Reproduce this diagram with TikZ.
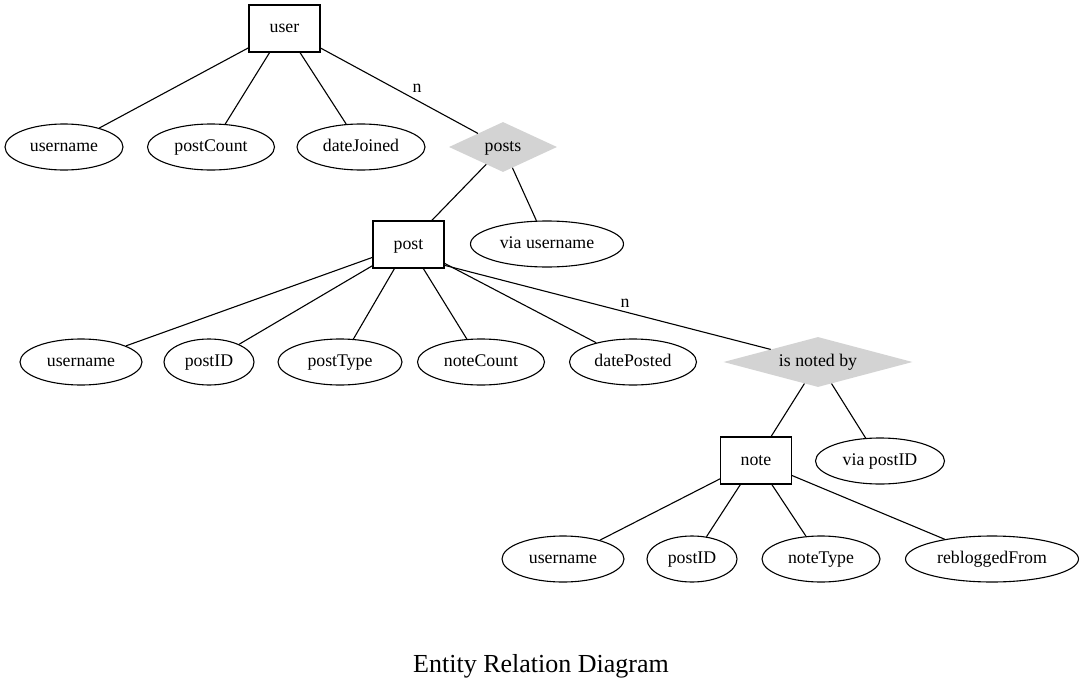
\documentclass[tikz,border=0pt]{standalone}
\usepackage{fontspec}
\setmainfont{Liberation Serif}
\usetikzlibrary{shapes.geometric}
\definecolor{lgray}{HTML}{D3D3D3}
\begin{document}
\begin{tikzpicture}[x=1pt,y=-1pt,
  every node/.style={font=\fontsize{17.8}{20}\selectfont},
  lbl/.style={text height=12.5pt, text depth=3.5pt},
  ent/.style={lbl, draw, rectangle, line width=1.1pt, minimum width=71pt, minimum height=47pt, inner sep=0pt},
  attr/.style={lbl, draw, ellipse, line width=1.1pt, minimum height=46pt, inner sep=0pt},
  rel/.style={lbl, diamond, fill=lgray, inner sep=0pt, minimum height=50pt},
  conn/.style={line width=1.1pt},
  card/.style={lbl, inner sep=0pt}]
\useasboundingbox (0,0) rectangle (1084,693);
% entities
\node[ent] (user) at (284.5,28.5) {user};
\node[ent] (post) at (408.5,244.5) {post};
\node[ent] (note) at (756,460.5) {note};
% relations
\node[rel, aspect=2.16, minimum width=108pt] (posts) at (503,147) {posts};
\node[rel, aspect=3.78, minimum width=189pt] (noted) at (818,362) {is noted by};
% user attributes
\node[attr, minimum width=118pt] (uname) at (64,147) {username};
\node[attr, minimum width=127pt] (pcount) at (211,147) {postCount};
\node[attr, minimum width=128pt] (djoined) at (361,147) {dateJoined};
\node[attr, minimum width=153pt] (viauser) at (547,244) {via username};
% post attributes
\node[attr, minimum width=122pt] (puname) at (81,362) {username};
\node[attr, minimum width=90pt] (ppid) at (209,362) {postID};
\node[attr, minimum width=124pt] (ptype) at (340,362) {postType};
\node[attr, minimum width=127pt] (ncount) at (481,362) {noteCount};
\node[attr, minimum width=127pt] (dposted) at (633,362) {datePosted};
\node[attr, minimum width=129pt] (viapid) at (880,461) {via postID};
% note attributes
\node[attr, minimum width=122pt] (nuname) at (563,559) {username};
\node[attr, minimum width=90pt] (npid) at (692,559) {postID};
\node[attr, minimum width=118pt] (ntype) at (821,559) {noteType};
\node[attr, minimum width=173pt] (rfrom) at (992,559) {rebloggedFrom};
% connectors
\draw[conn] (user) -- (uname);
\draw[conn] (user) -- (pcount);
\draw[conn] (user) -- (djoined);
\draw[conn] (user) -- (posts);
\draw[conn] (posts) -- (post);
\draw[conn] (posts) -- (viauser);
\draw[conn] (post) -- (puname);
\draw[conn] (post) -- (ppid);
\draw[conn] (post) -- (ptype);
\draw[conn] (post) -- (ncount);
\draw[conn] (post) -- (dposted);
\draw[conn] (post.-30) -- (noted.north west);
\draw[conn] (noted) -- (note);
\draw[conn] (noted) -- (viapid);
\draw[conn] (note) -- (nuname);
\draw[conn] (note) -- (npid);
\draw[conn] (note) -- (ntype);
\draw[conn] (note) -- (rfrom);
% cardinality labels
\node[card] (n1) at (417,88) {n};
\node[card] (n2) at (625,303) {n};
% title
\node[font=\fontsize{26}{30}\selectfont] (title) at (541,666) {Entity Relation Diagram};
\end{tikzpicture}
\end{document}
